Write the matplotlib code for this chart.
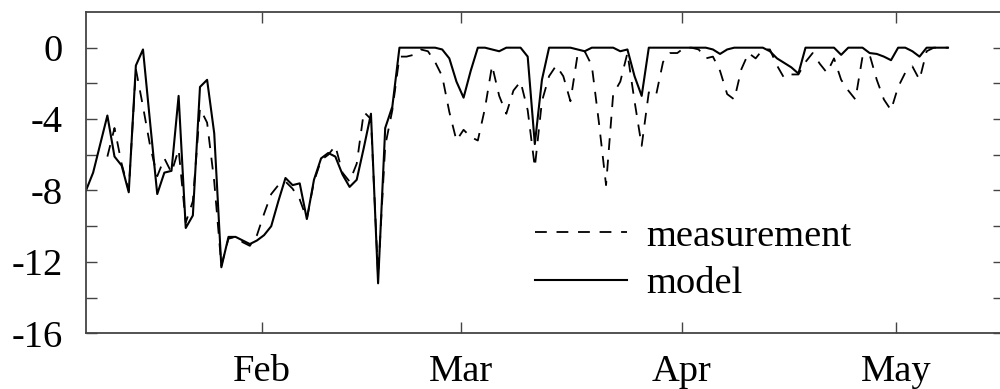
import numpy as np
import matplotlib
matplotlib.use('Agg')
import matplotlib.pyplot as plt

# daily values, first value sits on day-of-year 6.34 (Jan 7)
start_day = 6.34
model = [-8.0, -7.0, -5.4, -3.8, -6.1, -6.6, -8.1, -1.0, -0.1, -4.2,
         -8.2, -7.0, -6.9, -2.7, -10.1, -9.4, -2.2, -1.8, -4.8, -12.3,
         -10.6, -10.6, -10.8, -11.0, -10.8, -10.5, -10.0, -8.6, -7.3, -7.7,
         -7.6, -9.6, -7.4, -6.2, -5.9, -6.1, -7.1, -7.8, -7.4, -5.6,
         -3.7, -13.2, -4.5, -3.3, 0, 0, 0, 0, 0, 0,
         -0.1, -0.6, -1.9, -2.8, -1.3, 0, 0, -0.1, -0.2, 0,
         0, 0, -0.5, -5.4, -1.8, 0, 0, 0, 0, -0.1,
         -0.2, 0, 0, 0, 0, -0.2, -0.1, -1.6, -2.7, 0,
         0, 0, 0, 0, 0, 0, 0, 0, -0.1, -0.35,
         -0.1, 0, 0, 0, 0, 0, -0.2, -0.6, -0.85, -1.1,
         -1.45, 0, 0, 0, 0, 0, -0.4, 0, 0, 0,
         -0.3, -0.35, -0.5, -0.7, 0, 0, -0.2, -0.5, 0, 0,
         0, 0]
# nan = no measurement
measurement = [np.nan, np.nan, np.nan, -6.1, -4.5, -6.5, -8.0, -1.2, -3.3, -5.5,
               -7.2, -6.2, -7.0, -5.7, -9.8, -8.6, -3.4, -4.2, -7.5, -12.2,
               -10.7, -10.6, -10.9, -11.1, -10.5, -9.3, -8.2, -7.7, -7.5, -7.9,
               -8.5, -9.6, -7.5, -6.3, -6.0, -5.5, -7.0, -7.5, -6.5, -3.6,
               -4.0, -12.8, -5.5, -3.5, -0.5, -0.5, -0.4, -0.1, -0.2, -0.8,
               -1.6, -3.6, -5.2, -4.6, -5.0, -5.2, -3.4, -1.0, -2.7, -3.7,
               -2.4, -1.9, -3.5, -6.7, -3.0, -1.6, -1.0, -1.6, -3.0, -0.4,
               -0.2, -1.0, -4.2, -7.7, -2.6, -1.9, -0.3, -3.0, -5.5, -2.5,
               -2.7, -0.8, -0.3, -0.3, 0, 0, -0.1, -0.6, -0.5, -1.3,
               -2.6, -2.9, -1.2, -0.3, -0.6, -0.1, -0.1, -1.0, -1.7, -1.5,
               -1.5, -0.8, -0.3, -0.9, -1.4, -0.6, -1.8, -2.4, -2.9, -0.5,
               -0.4, -1.8, -2.9, -3.5, -2.2, -1.4, -1.05, -1.8, -0.2, 0,
               0, 0]

month_days = [31, 59, 90, 120]
month_names = ['Feb', 'Mar', 'Apr', 'May']
y_major = [0, -4, -8, -12, -16]
y_minor = [-2, -6, -10, -14]

plt.rcParams['font.family'] = ['Liberation Serif', 'DejaVu Serif']
plt.rcParams['axes.unicode_minus'] = False
plt.rcParams['lines.scale_dashes'] = False

days = start_day + np.arange(len(model))
edge = '#444444'

fig = plt.figure(figsize=(10, 3.89), dpi=100)
ax = fig.add_axes([0.086, 0.1432, 0.918, 0.826])

ax.plot(days, measurement, color='k', lw=1.3, dashes=(8.5, 7.0), label='measurement')
ax.plot(days, model, color='k', lw=1.5, label='model')

ax.set_xlim(start_day, 135.2)
ax.set_ylim(-16, 2)
ax.set_xticks(month_days)
ax.set_xticklabels(month_names)
ax.set_yticks(y_major)
ax.set_yticks(y_minor, minor=True)

ax.tick_params(which='both', direction='in', top=True, right=True,
               length=7.8, width=1.0, color=edge, labelsize=27.7)
ax.tick_params(axis='y', pad=17)
ax.tick_params(axis='x', pad=15)
for s in ax.spines.values():
    s.set_color(edge)
    s.set_linewidth(1.3)

ax.legend(loc='upper left', bbox_to_anchor=(0.489, 0.356), frameon=False,
          fontsize=27.7, handlelength=2.4, handletextpad=0.5,
          labelspacing=0.32, borderpad=0, borderaxespad=0)

fig.savefig('out.png', dpi=100)
